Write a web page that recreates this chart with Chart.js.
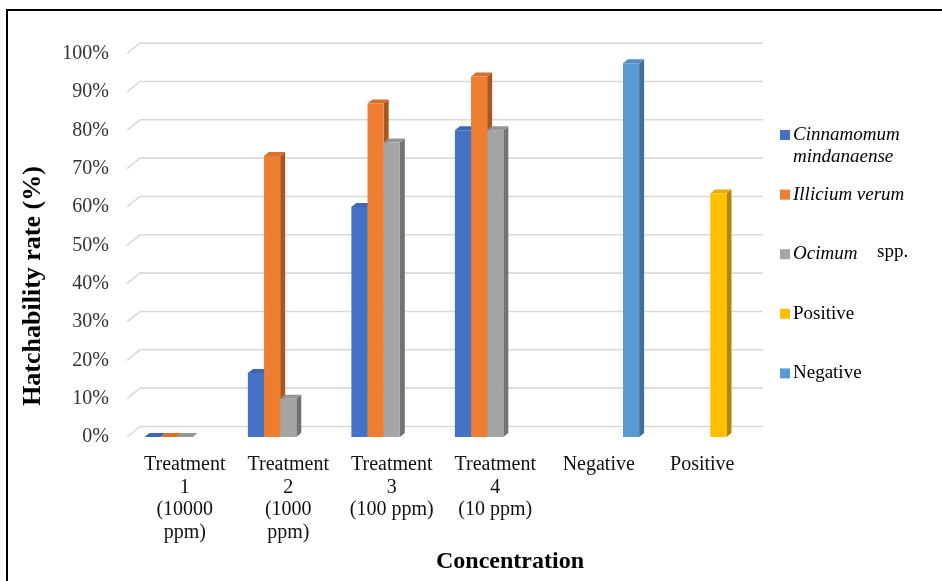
<!DOCTYPE html>
<html>
<head>
<meta charset="utf-8">
<script src="https://cdn.jsdelivr.net/npm/chart.js@4.4.1/dist/chart.umd.min.js"></script>
<style>
  body { margin: 0; background: #fff; }
  .wrap { position: relative; width: 942px; height: 581px; overflow: hidden; }
  .frame { position: absolute; left: 6px; top: 9px; width: 2000px; height: 2000px;
           border-left: 2px solid #000; border-top: 2px solid #000; }
</style>
</head>
<body>
<div class="wrap">
  <div class="frame"></div>
  <canvas id="myChart"></canvas>
</div>
<script>
// data
const categories = [
    ['Treatment', '1', '(10000', 'ppm)'],
    ['Treatment', '2', '(1000', 'ppm)'],
    ['Treatment', '3', '(100 ppm)'],
    ['Treatment', '4', '(10 ppm)'],
    'Negative',
    'Positive'
];
const seriesNames = ['Cinnamomum mindanaense', 'Illicium verum', 'Ocimum spp.', 'Positive', 'Negative'];
const cinnamomum = [0, 16.7, 60, 80, null, null];
const illicium = [0, 73.3, 87, 94, null, null];
const ocimum = [0, 10, 76.8, 80, null, null];
const positive = [null, null, null, null, null, 63.5];
const negative = [null, null, null, null, 97.5, null];
const yTicks = [0, 10, 20, 30, 40, 50, 60, 70, 80, 90, 100];

const fronts = ['#4472C4', '#ED7D31', '#A5A5A5', '#FFC000', '#5B9BD5'];
const tops = ['#3D67B3', '#D6702B', '#959595', '#E6AD00', '#528CC0'];
const sides = ['#2F5597', '#A9561F', '#737373', '#B28600', '#3F6F9A'];

const serif = "'Liberation Serif', 'Times New Roman', serif";
const DX = 5, DY = 4;

// back wall gridlines + 3d faces of the bars
const depth3d = {
    id: 'depth3d',
    beforeDatasetsDraw(chart) {
        const ctx = chart.ctx;
        const a = chart.chartArea;
        const y = chart.scales.y;
        ctx.save();
        ctx.strokeStyle = '#D9D9D9';
        ctx.lineWidth = 1.6;
        yTicks.forEach(function(t) {
            const py = y.getPixelForValue(t);
            ctx.beginPath();
            ctx.moveTo(a.left - 6, py);
            ctx.lineTo(a.left + 7, py - 10.5);
            ctx.lineTo(a.right + 9, py - 10.5);
            ctx.stroke();
        });
        chart.data.datasets.forEach(function(ds, i) {
            const meta = chart.getDatasetMeta(i);
            meta.data.forEach(function(bar, j) {
                if (ds.data[j] === null) return;
                const p = bar.getProps(['x', 'y', 'base', 'width'], true);
                const l = p.x - p.width / 2, r = p.x + p.width / 2;
                ctx.fillStyle = sides[i];
                ctx.beginPath();
                ctx.moveTo(r, p.y);
                ctx.lineTo(r + DX, p.y - DY);
                ctx.lineTo(r + DX, p.base - DY);
                ctx.lineTo(r, p.base);
                ctx.closePath();
                ctx.fill();
                ctx.fillStyle = tops[i];
                ctx.beginPath();
                ctx.moveTo(l, p.y);
                ctx.lineTo(l + DX, p.y - DY);
                ctx.lineTo(r + DX, p.y - DY);
                ctx.lineTo(r, p.y);
                ctx.closePath();
                ctx.fill();
            });
        });
        ctx.restore();
    }
};

// axis titles and the legend on the right
const extras = {
    id: 'extras',
    afterDraw(chart) {
        const ctx = chart.ctx;
        ctx.save();
        ctx.fillStyle = '#000';
        ctx.textBaseline = 'middle';
        ctx.textAlign = 'center';
        ctx.font = 'bold 24px ' + serif;
        ctx.fillText('Concentration', 510, 562);
        ctx.translate(33, 286);
        ctx.rotate(-Math.PI / 2);
        ctx.font = 'bold 26px ' + serif;
        ctx.fillText('Hatchability rate (%)', 0, 0);
        ctx.restore();

        ctx.save();
        ctx.textBaseline = 'middle';
        ctx.textAlign = 'left';
        const italic = 'italic 19px ' + serif, normal = '19px ' + serif;
        chart.data.datasets.forEach(function(ds, i) {
            const cy = 135 + i * 59.6;
            ctx.fillStyle = ds.backgroundColor;
            ctx.fillRect(780, cy - 5, 10, 10);
            ctx.fillStyle = '#000';
            const name = ds.label;
            if (i === 0) {
                const w = name.split(' ');
                ctx.font = italic;
                ctx.fillText(w[0], 793, cy);
                ctx.fillText(w[1], 793, cy + 22);
            } else if (i === 1) {
                ctx.font = italic;
                ctx.fillText(name, 793, cy);
            } else if (i === 2) {
                const w = name.split(' ');
                ctx.font = italic;
                ctx.fillText(w[0], 793, cy);
                ctx.font = normal;
                ctx.fillText(w[1], 877, cy - 2);
            } else {
                ctx.font = normal;
                ctx.fillText(name, 793, cy);
            }
        });
        ctx.restore();
    }
};

const seriesData = [cinnamomum, illicium, ocimum, positive, negative];

const myChart = new Chart(document.getElementById('myChart'), {
    type: 'bar',
    data: {
        labels: categories,
        datasets: seriesData.map(function(d, i) {
            return {
                label: seriesNames[i],
                data: d,
                backgroundColor: fronts[i],
                borderWidth: 0
            };
        })
    },
    options: {
        responsive: true,
        maintainAspectRatio: false,
        animation: false,
        events: [],
        layout: { padding: { left: 0, right: 188, top: 53.6, bottom: 0 } },
        datasets: { bar: { categoryPercentage: 0.78, barPercentage: 1 } },
        plugins: { legend: { display: false }, tooltip: { enabled: false } },
        scales: {
            x: {
                grid: { display: false, drawTicks: false },
                border: { display: false },
                ticks: {
                    maxRotation: 0, autoSkip: false, padding: 17, color: '#111',
                    font: { family: serif, size: 20, lineHeight: 1.12 }
                },
                afterFit: function(s) { s.height = 144; }
            },
            y: {
                min: 0, max: 100,
                grid: { display: false, drawTicks: false },
                border: { display: false },
                ticks: {
                    stepSize: 10, padding: 24, color: '#333',
                    font: { family: serif, size: 20 },
                    callback: function(v) { return v + '%'; }
                },
                afterFit: function(s) { s.width = 133; }
            }
        }
    },
    plugins: [depth3d, extras]
});
</script>
</body>
</html>
